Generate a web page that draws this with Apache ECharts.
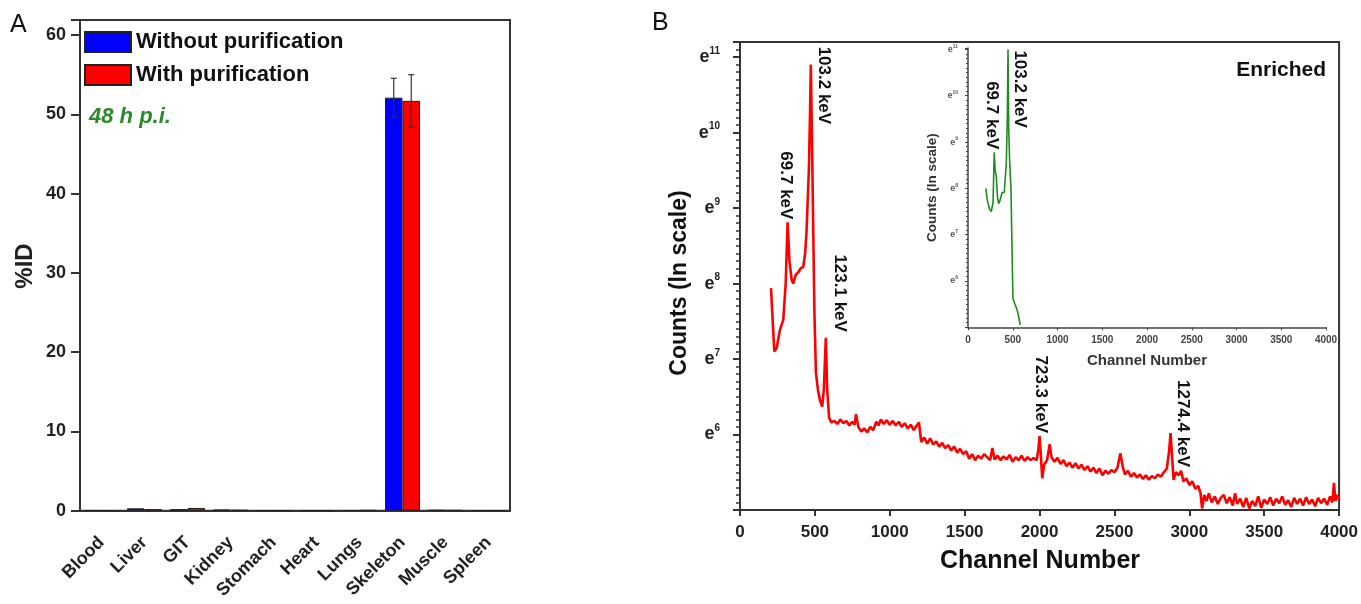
<!DOCTYPE html>
<html><head><meta charset="utf-8">
<script src="https://cdn.jsdelivr.net/npm/echarts@6/dist/echarts.min.js"></script>
<style>html,body{margin:0;padding:0;background:#fff}#c{width:1361px;height:604px}</style>
</head><body><div id="c"></div>
<script>
const FONT = "'Liberation Sans', Arial, Helvetica, sans-serif";

// ---------- Panel A data ----------
const categories = ['Blood', 'Liver', 'GIT', 'Kidney', 'Stomach', 'Heart', 'Lungs', 'Skeleton', 'Muscle', 'Spleen'];
const withoutPurification = [0.05, 0.3, 0.2, 0.15, 0.03, 0.02, 0.05, 52.1, 0.1, 0.03];
const withPurification    = [0.03, 0.2, 0.35, 0.1, 0.02, 0.02, 0.08, 51.7, 0.08, 0.02];
const errWithout = [0, 0, 0, 0, 0, 0, 0, 2.45, 0, 0];
const errWith    = [0, 0, 0, 0, 0, 0, 0, 3.3, 0, 0];
const yTicksA = [0, 10, 20, 30, 40, 50, 60];

// ---------- Panel B main spectrum (channel, ln counts) ----------
const redChannel = [207,229,245,267,289,305,318,330,345,355,373,390,405,422,435,444,460,468,473,480,489,497,507,520,533,549,560,573,582,595,
610,630,650,670,690,710,730,750,765,775,790,810,830,850,870,890,910,925,940,960,980,1000,1020,1040,1060,1080,1100,1120,1140,1160,1180,1195,
1210,1230,1250,1270,1290,1310,1330,1350,1370,1390,1410,1430,1450,1470,1490,1510,1530,1550,1570,1590,1610,1630,1650,1670,1685,1700,1720,1740,
1760,1780,1800,1820,1840,1860,1880,1900,1920,1940,1960,1980,1992,2000,2008,2018,2030,2050,2068,2080,2100,2120,2140,2160,2180,2200,2220,2240,
2260,2280,2300,2320,2340,2360,2380,2400,2420,2440,2460,2480,2500,2520,2540,2555,2570,2590,2610,2630,2650,2670,2690,2710,2730,2750,2770,2790,
2810,2830,2850,2865,2875,2885,2895,2910,2930,2945,2960,2980,3000,3020,3040,3060,3075,3085,3100,3115,3130,3150,3170,3190,3210,3230,3250,3270,
3290,3305,3320,3340,3360,3380,3400,3420,3440,3460,3480,3500,3520,3540,3560,3580,3600,3620,3640,3660,3680,3700,3720,3740,3760,3780,3800,3820,
3840,3860,3880,3900,3920,3940,3955,3966,3975,3990,4000];
const redLnCounts = [7.94,7.10,7.15,7.39,7.52,8.0,8.81,8.3,8.05,8.0,8.12,8.15,8.2,8.22,8.4,8.68,9.51,10.3,10.9,10.0,8.72,7.6,6.82,6.6,6.46,6.37,6.6,7.28,6.6,6.22,
6.16,6.18,6.14,6.20,6.15,6.18,6.12,6.17,6.13,6.27,6.10,6.04,6.08,6.03,6.10,6.06,6.17,6.12,6.20,6.14,6.19,6.13,6.18,6.12,6.17,6.10,6.15,6.08,6.13,6.06,6.12,6.16,
5.90,5.96,5.88,5.95,5.87,5.91,5.84,5.89,5.82,5.86,5.79,5.84,5.76,5.81,5.74,5.78,5.68,5.74,5.66,5.72,5.68,5.74,5.70,5.66,5.82,5.67,5.72,5.66,
5.71,5.67,5.73,5.64,5.70,5.66,5.72,5.65,5.70,5.66,5.69,5.66,5.80,5.98,5.75,5.42,5.60,5.66,5.87,5.70,5.64,5.69,5.61,5.66,5.58,5.63,5.56,5.62,
5.55,5.60,5.53,5.58,5.51,5.56,5.49,5.55,5.46,5.52,5.48,5.53,5.50,5.56,5.75,5.58,5.47,5.52,5.44,5.49,5.43,5.47,5.41,5.46,5.40,5.45,5.42,5.47,
5.44,5.50,5.55,5.78,6.02,5.70,5.40,5.50,5.46,5.52,5.38,5.42,5.33,5.38,5.28,5.32,5.22,5.02,5.20,5.12,5.22,5.10,5.18,5.08,5.16,5.20,5.09,5.17,
5.06,5.22,5.08,5.15,5.04,5.16,5.02,5.12,5.05,5.18,5.03,5.14,5.08,5.17,5.06,5.15,5.09,5.18,5.07,5.13,5.04,5.16,5.08,5.15,5.06,5.17,5.08,5.14,
5.05,5.16,5.09,5.15,5.07,5.18,5.10,5.36,5.12,5.20,5.14];

// ---------- Panel B inset spectrum ----------
const greenChannel  = [200, 215, 240, 260, 280, 293, 305, 315, 330, 342, 360, 380, 405, 428, 440, 447, 455, 465, 472, 480, 490, 502, 515, 528, 540, 554, 568, 584];
const greenLnCounts = [8.0, 7.75, 7.55, 7.5, 7.7, 8.78, 8.35, 8.29, 7.8, 7.67, 7.75, 7.91, 7.91, 8.54, 9.6, 11.0, 9.3, 8.6, 8.57, 8.0, 6.9, 5.62, 5.6, 5.48, 5.42, 5.34, 5.2, 5.05];

// peak annotations: text, panel, channel, ln counts
const peakText    = ['103.2 keV', '69.7 keV', '123.1 keV', '723.3 keV', '1274.4 keV', '103.2 keV', '69.7 keV'];
const peakPanel   = ['main', 'main', 'main', 'main', 'main', 'inset', 'inset'];
const peakChannel = [473, 318, 573, 2000, 2875, 447, 293];
const peakLn      = [10.9, 8.81, 7.28, 5.98, 6.02, 11.0, 8.78];
// label placement relative to the peak (style only)
const peakStyle = [
  {dx: 13, dy: -18, align: 'left'},
  {dx: -2, dy: -3, align: 'right'},
  {dx: 14, dy: -6, align: 'right'},
  {dx: 1, dy: -3, align: 'right'},
  {dx: 12, dy: -53, align: 'left'},
  {dx: 12, dy: 1, align: 'left'},
  {dx: -3, dy: -3, align: 'right'}
];

const xTicksB = [0, 500, 1000, 1500, 2000, 2500, 3000, 3500, 4000];

const chart = echarts.init(document.getElementById('c'), null, {renderer: 'canvas'});

function eLabel(v) {
  const r = Math.round(v);
  if (Math.abs(v - r) > 1e-6 || r < 6) return '';
  return '{e|e}{s|' + r + '}';
}

const axisLineStyle = {color: '#333', width: 2};

const option = {
  animation: false,
  backgroundColor: '#fff',
  textStyle: {fontFamily: FONT},
  legend: {
    data: ['Without purification', 'With purification'],
    orient: 'vertical', left: 84, top: 31, padding: 0,
    itemWidth: 46, itemHeight: 20, itemGap: 11,
    icon: 'rect',
    textStyle: {fontSize: 22, fontWeight: 'bold', color: '#111', fontFamily: FONT}
  },
  grid: [
    {left: 80, top: 20, width: 430, height: 490.7, show: true, borderColor: '#333', borderWidth: 2, backgroundColor: 'transparent'},
    {left: 740, top: 42, width: 600, height: 468, show: true, borderColor: '#333', borderWidth: 2, backgroundColor: 'transparent'},
    {left: 968, top: 48, width: 358, height: 279.3, show: false}
  ],
  xAxis: [
    {
      type: 'category', gridIndex: 0, data: categories, boundaryGap: true,
      axisLine: {lineStyle: axisLineStyle},
      axisTick: {alignWithLabel: true, length: 9, lineStyle: {color: '#333', width: 2}},
      axisLabel: {rotate: 45, margin: 29, fontSize: 18, fontWeight: 'bold', color: '#222', fontFamily: FONT, interval: 0}
    },
    {
      type: 'value', gridIndex: 1, min: 0, max: 4000, interval: 500,
      axisLine: {show: true, lineStyle: axisLineStyle},
      axisTick: {show: true, length: 6, lineStyle: {color: '#333', width: 2}},
      splitLine: {show: false},
      axisLabel: {margin: 14, fontSize: 17, fontWeight: 'bold', color: '#222', fontFamily: FONT,
        formatter: v => xTicksB.includes(v) ? String(v) : ''}
    },
    {
      type: 'value', gridIndex: 2, min: 0, max: 4000, interval: 500,
      axisLine: {show: true, lineStyle: {color: '#444', width: 1.5}},
      axisTick: {show: true, length: 3, lineStyle: {color: '#444'}},
      splitLine: {show: false},
      name: 'Channel Number', nameLocation: 'middle', nameGap: 26,
      nameTextStyle: {fontSize: 15, fontWeight: 'bold', color: '#333', fontFamily: FONT},
      axisLabel: {margin: 8, fontSize: 10, fontWeight: 'bold', color: '#444', fontFamily: FONT,
        formatter: v => xTicksB.includes(v) ? String(v) : ''}
    }
  ],
  yAxis: [
    {
      type: 'value', gridIndex: 0, min: 0, max: 61.9, interval: 10,
      axisLine: {show: true, lineStyle: axisLineStyle},
      axisTick: {show: true, length: 9, lineStyle: {color: '#333', width: 2}},
      splitLine: {show: false},
      axisLabel: {margin: 14, fontSize: 18, fontWeight: 'bold', color: '#222', fontFamily: FONT,
        formatter: v => yTicksA.includes(v) ? String(v) : ''}
    },
    {
      type: 'value', gridIndex: 1, min: 5, max: 11.2, interval: 1,
      axisLine: {show: true, lineStyle: axisLineStyle},
      axisTick: {show: true, length: 7, lineStyle: {color: '#333', width: 2}},
      minorTick: {show: true, splitNumber: 10, length: 4, lineStyle: {color: '#333', width: 1.5}},
      splitLine: {show: false}, minorSplitLine: {show: false},
      axisLabel: {margin: 20, formatter: eLabel, fontFamily: FONT,
        rich: {
          e: {fontSize: 18, fontWeight: 'bold', color: '#222', fontFamily: FONT, lineHeight: 22},
          s: {fontSize: 10, fontWeight: 'bold', color: '#222', fontFamily: FONT, verticalAlign: 'top', lineHeight: 12}
        }}
    },
    {
      type: 'value', gridIndex: 2, min: 5, max: 11.03, interval: 1,
      axisLine: {show: true, lineStyle: {color: '#444', width: 1.5}},
      axisTick: {show: true, length: 3, lineStyle: {color: '#444'}},
      minorTick: {show: true, splitNumber: 10, length: 2, lineStyle: {color: '#444'}},
      splitLine: {show: false}, minorSplitLine: {show: false},
      name: 'Counts (ln scale)', nameLocation: 'middle', nameGap: 29,
      nameTextStyle: {fontSize: 13.5, fontWeight: 'bold', color: '#333', fontFamily: FONT},
      axisLabel: {margin: 10, formatter: eLabel, fontFamily: FONT,
        rich: {
          e: {fontSize: 9, fontWeight: 'bold', color: '#555', fontFamily: FONT, lineHeight: 11},
          s: {fontSize: 5, fontWeight: 'bold', color: '#555', fontFamily: FONT, verticalAlign: 'top', lineHeight: 6}
        }}
    }
  ],
  series: [
    {
      name: 'Without purification', type: 'bar', xAxisIndex: 0, yAxisIndex: 0,
      data: withoutPurification, barWidth: 17.5, barGap: '0%',
      itemStyle: {color: '#0000ff', borderColor: '#222', borderWidth: 1}
    },
    {
      name: 'With purification', type: 'bar', xAxisIndex: 0, yAxisIndex: 0,
      data: withPurification, barWidth: 17.5, barGap: '0%',
      itemStyle: {color: '#ff0000', borderColor: '#222', borderWidth: 1}
    },
    {
      type: 'custom', xAxisIndex: 0, yAxisIndex: 0, z: 5,
      data: categories.map((c, i) => [i, withoutPurification[i], errWithout[i], -1]).concat(
            categories.map((c, i) => [i, withPurification[i], errWith[i], 1])),
      renderItem: function (params, api) {
        const err = api.value(2);
        if (!err) return null;
        const i = api.value(0), v = api.value(1), side = api.value(3);
        const off = side * 8.75;
        const top = api.coord([i, v + err]);
        const bot = api.coord([i, v - err]);
        const x = top[0] + off;
        const st = {stroke: '#333', lineWidth: 1.2};
        return {type: 'group', children: [
          {type: 'line', shape: {x1: x, y1: top[1], x2: x, y2: bot[1]}, style: st},
          {type: 'line', shape: {x1: x - 3, y1: top[1], x2: x + 3, y2: top[1]}, style: st},
          {type: 'line', shape: {x1: x - 3, y1: bot[1], x2: x + 3, y2: bot[1]}, style: st}
        ]};
      }
    },
    {
      type: 'line', xAxisIndex: 1, yAxisIndex: 1, showSymbol: false, symbol: 'none',
      data: redChannel.map((c, i) => [c, redLnCounts[i]]),
      lineStyle: {color: '#ff0000', width: 2.6}, z: 3
    },
    {
      type: 'line', xAxisIndex: 2, yAxisIndex: 2, showSymbol: false, symbol: 'none',
      data: greenChannel.map((c, i) => [c, greenLnCounts[i]]),
      lineStyle: {color: '#1e8c1e', width: 1.6}, z: 3
    }
  ]
};
chart.setOption(option);

const graphics = [
  {type: 'text', x: 10, y: 13, style: {text: 'A', font: '25px ' + FONT, fill: '#111'}},
  {type: 'text', x: 652, y: 11, style: {text: 'B', font: '25px ' + FONT, fill: '#111'}},
  {type: 'text', x: 89, y: 106, style: {text: '48 h p.i.', font: 'italic bold 22px ' + FONT, fill: '#2a8a2a'}},
  {type: 'text', x: 1326, y: 60, style: {text: 'Enriched', font: 'bold 21px ' + FONT, fill: '#111', align: 'right'}},
  {type: 'text', x: 25, y: 266, rotation: Math.PI / 2, style: {text: '%ID', font: 'bold 24px ' + FONT, fill: '#222', align: 'center', verticalAlign: 'middle'}},
  {type: 'text', x: 680, y: 283, rotation: Math.PI / 2, style: {text: 'Counts (ln scale)', font: 'bold 23px ' + FONT, fill: '#111', align: 'center', verticalAlign: 'middle'}},
  {type: 'text', x: 1040, y: 561, style: {text: 'Channel Number', font: 'bold 25px ' + FONT, fill: '#111', align: 'center', verticalAlign: 'middle'}}
];
peakText.forEach((t, k) => {
  const idx = peakPanel[k] === 'main' ? 1 : 2;
  const p = chart.convertToPixel({xAxisIndex: idx, yAxisIndex: idx}, [peakChannel[k], peakLn[k]]);
  const s = peakStyle[k];
  graphics.push({
    type: 'text', x: p[0] + s.dx, y: p[1] + s.dy, rotation: -Math.PI / 2,
    style: {text: t, font: 'bold 17px ' + FONT, fill: '#111', align: s.align, verticalAlign: 'middle'}
  });
});
chart.setOption({graphic: graphics});
</script></body></html>
